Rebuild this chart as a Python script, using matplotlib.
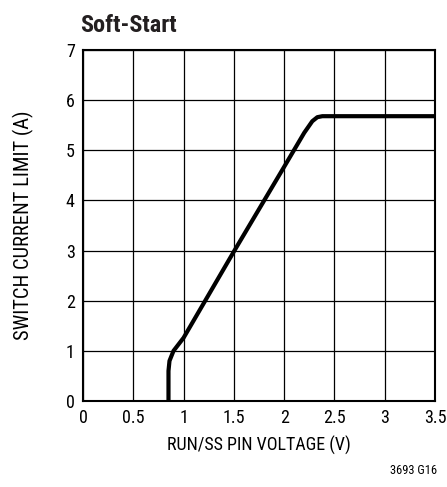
import matplotlib.pyplot as plt
import matplotlib.font_manager as fm

names = {f.name for f in fm.fontManager.ttflist}
narrow = 'DejaVu Sans'
for cand in ['Liberation Sans Narrow', 'Roboto Condensed', 'Open Sans Condensed', 'Roboto', 'Liberation Sans']:
    if cand in names:
        narrow = cand
        break
plt.rcParams['font.family'] = [narrow, 'DejaVu Sans']

# curve
volts = [0.85, 0.85, 0.86, 0.90, 1.00, 1.50, 2.00, 2.20, 2.28, 2.33, 2.38, 3.50]
amps = [0.0, 0.60, 0.80, 1.00, 1.26, 2.98, 4.67, 5.35, 5.58, 5.66, 5.68, 5.68]

xticks = [0, 0.5, 1, 1.5, 2, 2.5, 3, 3.5]
xlabels = ['0', '0.5', '1', '1.5', '2', '2.5', '3', '3.5']
yticks = [0, 1, 2, 3, 4, 5, 6, 7]

fig = plt.figure(figsize=(4.47, 4.87), dpi=100)
ax = fig.add_axes([83/447, 1-401/487, 352/447, 351/487])

ax.plot(volts, amps, color='black', lw=3, solid_joinstyle='round', solid_capstyle='butt')

ax.set_xlim(0, 3.5)
ax.set_ylim(0, 7)
ax.set_xticks(xticks)
ax.set_xticklabels(xlabels)
ax.set_yticks(yticks)
ax.tick_params(length=0, labelsize=13, pad=6)
ax.grid(True, color='black', lw=0.9)
for s in ax.spines.values():
    s.set_linewidth(1.5)

ax.set_xlabel('RUN/SS PIN VOLTAGE (V)', fontsize=13, labelpad=6)
ax.set_ylabel('SWITCH CURRENT LIMIT (A)', fontsize=14.8, labelpad=23)

fig.text(80/447, 1-25/487, 'Soft-Start', fontsize=17.5, fontweight='bold',
         ha='left', va='center', color='#231f20')
fig.text(437/447, 1-470/487, '3693 G16', fontsize=9, ha='right', va='center')

fig.savefig('out.png', dpi=100)
